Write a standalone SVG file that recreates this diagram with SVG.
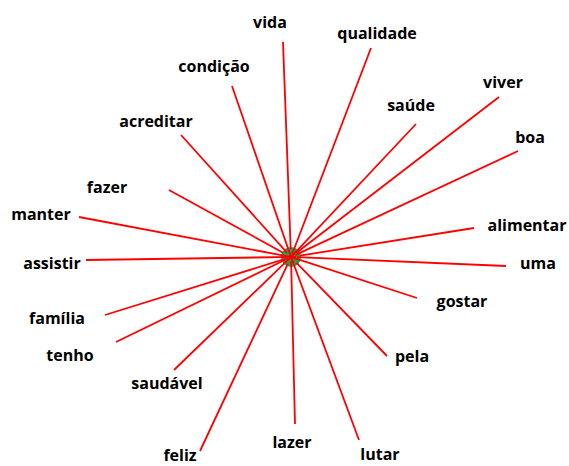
<svg xmlns="http://www.w3.org/2000/svg" width="569" height="466" viewBox="0 0 569 466">
<style>
.l{stroke:#ff0000;stroke-width:1.8;fill:none}
text{font-family:"Open Sans","Liberation Sans",sans-serif;font-weight:700;font-size:16px;fill:#000;text-anchor:middle}
</style>
<rect width="569" height="466" fill="#fff"/>
<g id="hub"><circle cx="291" cy="257" r="10" fill="#1aa34a"/></g>
<g id="connectors">
<line class="l" x1="290.7" y1="249" x2="283" y2="42"/>
<line class="l" x1="292.1" y1="254.2" x2="371" y2="48"/>
<line class="l" x1="292.3" y1="260.8" x2="232" y2="86"/>
<line class="l" x1="287" y1="252.6" x2="181" y2="135"/>
<line class="l" x1="283.1" y1="252.7" x2="169" y2="190"/>
<line class="l" x1="289" y1="256.6" x2="79" y2="217"/>
<line class="l" x1="289" y1="259.2" x2="416" y2="124"/>
<line class="l" x1="296.5" y1="252.7" x2="499" y2="97"/>
<line class="l" x1="295.6" y1="254.9" x2="518" y2="151"/>
<line class="l" x1="299.9" y1="255.6" x2="474" y2="228"/>
<line class="l" x1="296" y1="256.9" x2="86" y2="260"/>
<line class="l" x1="284.4" y1="259.1" x2="105" y2="315"/>
<line class="l" x1="288.3" y1="258.3" x2="116" y2="342"/>
<line class="l" x1="293.9" y1="254.2" x2="174" y2="370"/>
<line class="l" x1="287.6" y1="264.3" x2="200" y2="451"/>
<line class="l" x1="291.1" y1="261" x2="295" y2="424"/>
<line class="l" x1="290" y1="254.2" x2="359" y2="440"/>
<line class="l" x1="296.6" y1="262.8" x2="387" y2="356"/>
<line class="l" x1="292.9" y1="257.6" x2="417" y2="298"/>
<line class="l" x1="297" y1="257.2" x2="506" y2="266"/>
</g>
<g id="vida"><text x="270" y="28">vida</text></g>
<g id="qualidade"><text x="377" y="39">qualidade</text></g>
<g id="condicao"><text x="214" y="72">condição</text></g>
<g id="acreditar"><text x="156" y="127">acreditar</text></g>
<g id="fazer"><text x="107" y="193">fazer</text></g>
<g id="manter"><text x="41" y="220">manter</text></g>
<g id="saude"><text x="411" y="111">saúde</text></g>
<g id="viver"><text x="503" y="88">viver</text></g>
<g id="boa"><text x="530" y="143">boa</text></g>
<g id="alimentar"><text x="527" y="231">alimentar</text></g>
<g id="assistir"><text x="52" y="269">assistir</text></g>
<g id="familia"><text x="57" y="324">família</text></g>
<g id="tenho"><text x="70" y="361">tenho</text></g>
<g id="saudavel"><text x="167" y="389">saudável</text></g>
<g id="feliz"><text x="180" y="461">feliz</text></g>
<g id="lazer"><text x="292" y="448">lazer</text></g>
<g id="lutar"><text x="380" y="460">lutar</text></g>
<g id="pela"><text x="412" y="362">pela</text></g>
<g id="gostar"><text x="462" y="307">gostar</text></g>
<g id="uma"><text x="538" y="269">uma</text></g>
</svg>
